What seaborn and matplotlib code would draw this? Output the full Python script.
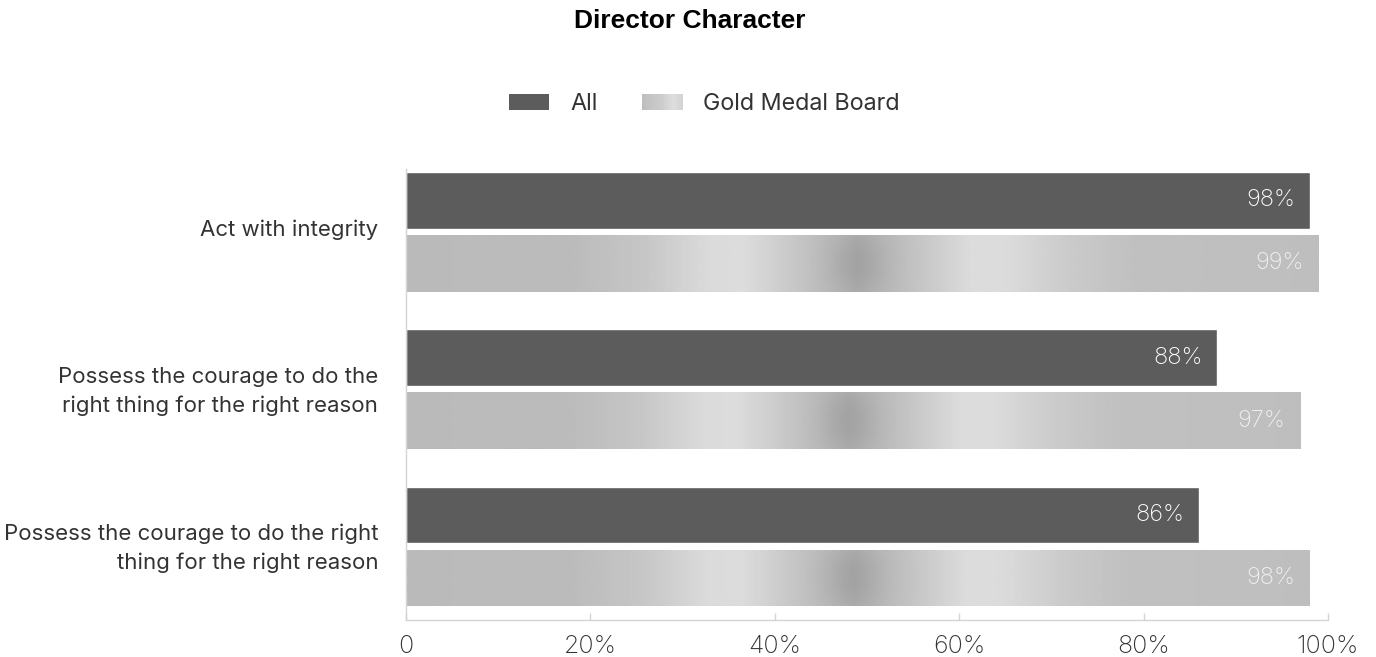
import numpy as np
import pandas as pd
import matplotlib
matplotlib.use("Agg")
import matplotlib.pyplot as plt
import matplotlib.transforms as mtransforms
from matplotlib.patches import Rectangle
from matplotlib.legend_handler import HandlerBase
from matplotlib.ticker import FixedLocator, FuncFormatter
import seaborn as sns

# ---- data ----
categories = [
    "Act with integrity",
    "Possess the courage to do the\nright thing for the right reason",
    "Possess the courage to do the right\nthing for the right reason",
]
series_names = ["All", "Gold Medal Board"]
all_values = [98, 88, 86]
gold_values = [99, 97, 98]
x_ticks = [0, 20, 40, 60, 80, 100]

DARK = "#5c5c5c"
SILVER = "#bababa"
TEXT = "#333333"

df = pd.DataFrame({
    "category": categories * 2,
    "series": [series_names[0]] * 3 + [series_names[1]] * 3,
    "value": all_values + gold_values,
})

sns.set_theme(style="white")
plt.rcParams["font.family"] = ["Inter", "DejaVu Sans"]

fig = plt.figure(figsize=(13.76, 6.57), dpi=100)
ax = fig.add_axes([0.295, 0.0563, 0.9651 - 0.295, 0.7428 - 0.0563])

sns.barplot(
    data=df, y="category", x="value", hue="series",
    hue_order=series_names, order=categories, orient="h",
    palette={series_names[0]: DARK, series_names[1]: SILVER},
    width=0.8, gap=0.1, saturation=1, legend=False, ax=ax,
)


# metallic sheen along a bar: brightness profile along its length
def sheen(nx=400, ny=60):
    f = np.linspace(0, 1, nx)
    v = np.linspace(-1, 1, ny)[:, None]
    prof = np.interp(
        f,
        [0.0, 0.18, 0.26, 0.33, 0.37, 0.44, 0.495, 0.56, 0.62, 0.66, 0.73, 0.80, 1.0],
        [186, 187, 198, 218, 220, 194, 176, 196, 220, 219, 202, 192, 190],
    )
    spot = 14 * np.exp(-((f - 0.495) / 0.035) ** 2)
    img = prof[None, :] - spot[None, :] * (1 - 0.6 * v ** 2)
    return img


grad = sheen()
n = len(categories)
bars = ax.patches
for i, p in enumerate(bars):
    x0, y0, w, h = p.get_x(), p.get_y(), p.get_width(), p.get_height()
    is_gold = i >= n
    if is_gold:
        im = ax.imshow(grad, cmap="gray", vmin=0, vmax=255, aspect="auto",
                       extent=[x0, x0 + w, y0 + h, y0], zorder=p.get_zorder() + 0.1,
                       interpolation="bilinear")
        im.set_clip_path(p)
    ax.text(x0 + w - 1.6, y0 + h / 2, f"{w:.0f}%", ha="right", va="center",
            fontsize=17, fontweight="light",
            color="#f0f0f0" if is_gold else "white", zorder=5)

ax.set_xlim(0, 100)
ax.set_ylim(2.468, -0.4)
ax.set_xlabel("")
ax.set_ylabel("")

ax.xaxis.set_major_locator(FixedLocator(x_ticks))
ax.xaxis.set_major_formatter(FuncFormatter(lambda v, _: "0" if v == 0 else f"{v:.0f}%"))
ax.tick_params(axis="x", direction="in", length=5, width=1, color="#d4d4d4",
               labelsize=18, labelcolor=TEXT, pad=11, bottom=True)
for lab in ax.get_xticklabels():
    lab.set_fontweight("light")
ax.tick_params(axis="y", length=0, labelsize=16, labelcolor=TEXT, pad=20)
lift = mtransforms.ScaledTranslation(0, 4 / 100, fig.dpi_scale_trans)
for lab in ax.get_yticklabels():
    lab.set_horizontalalignment("right")
    lab.set_multialignment("right")
    lab.set_linespacing(1.5)
    lab.set_transform(lab.get_transform() + lift)

for side in ["top", "right"]:
    ax.spines[side].set_visible(False)
for side in ["left", "bottom"]:
    ax.spines[side].set_color("#d4d4d4")
    ax.spines[side].set_linewidth(1)


# legend swatch with the same sheen
class SheenHandler(HandlerBase):
    def create_artists(self, legend, orig_handle, xdescent, ydescent,
                       width, height, fontsize, trans):
        steps = 24
        cols = np.interp(np.linspace(0, 1, steps), [0, 0.5, 0.8, 1], [190, 205, 222, 212])
        arts = []
        for k, c in enumerate(cols):
            g = c / 255
            r = Rectangle((-xdescent + width * k / steps, -ydescent), width / steps + 0.3,
                          height, facecolor=(g, g, g), edgecolor="none", transform=trans)
            arts.append(r)
        return arts


h_all = Rectangle((0, 0), 1, 1, facecolor=DARK, edgecolor="none")
h_gold = Rectangle((0, 0), 1, 1, facecolor=SILVER, edgecolor="none")
fig.legend([h_all, h_gold], series_names, loc="center", bbox_to_anchor=(0.512, 0.842),
           ncol=2, frameon=False, fontsize=16.8, handlelength=1.72, handleheight=0.69,
           handletextpad=0.9, columnspacing=1.9, labelcolor=TEXT,
           handler_map={h_gold: SheenHandler()})

fig.text(0.5015, 0.968, "Director Character", ha="center", va="center",
         fontsize=19, fontweight="bold", family="Liberation Sans", color="black")

fig.savefig("out.png", dpi=100, facecolor="white")
